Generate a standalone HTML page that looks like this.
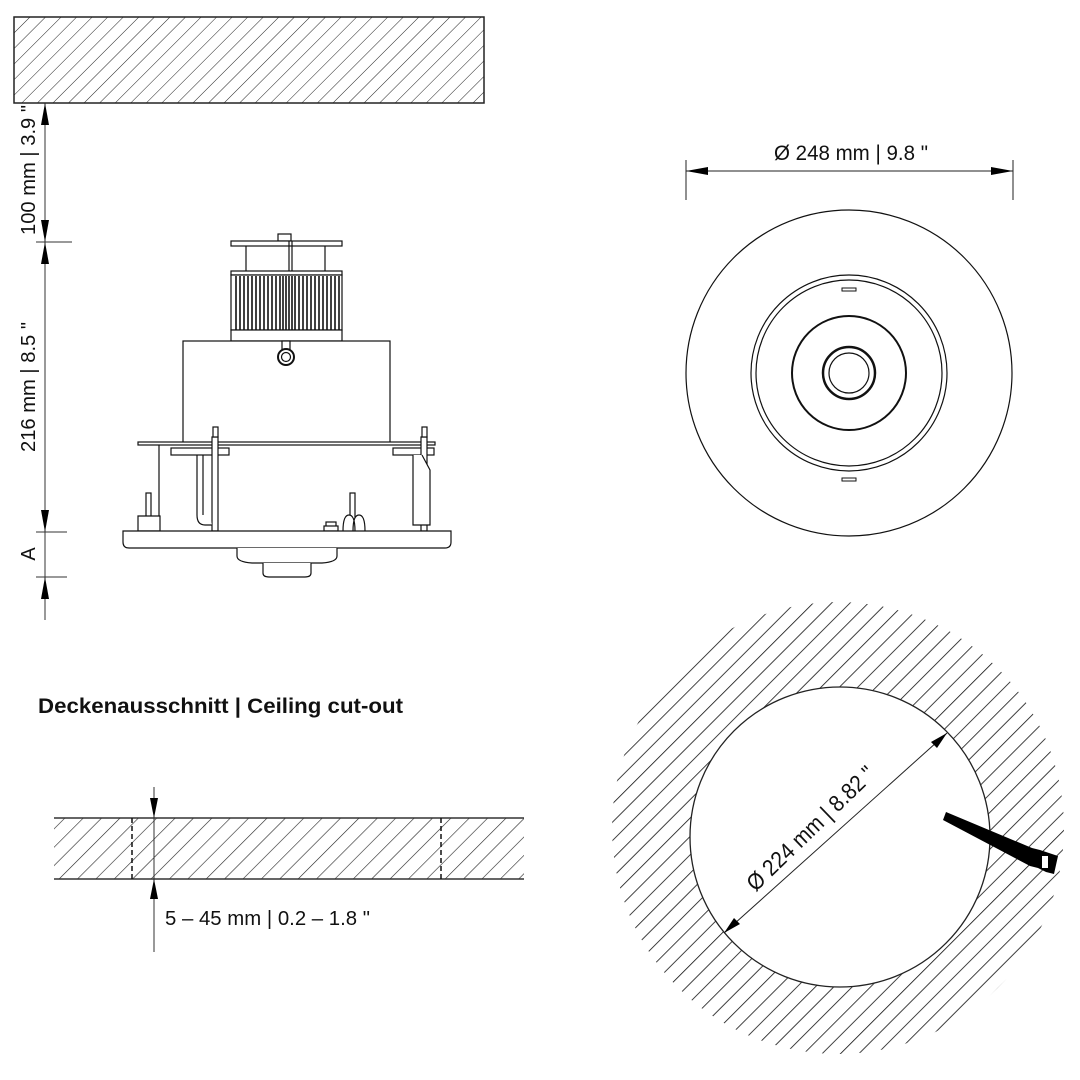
<!DOCTYPE html>
<html><head><meta charset="utf-8"><style>
html,body{margin:0;padding:0;background:#fff;}
svg{display:block;}
text{font-family:"Liberation Sans Narrow","Liberation Sans",sans-serif;fill:#111;}
</style></head><body>
<svg width="1080" height="1080" viewBox="0 0 1080 1080" xmlns="http://www.w3.org/2000/svg">
<defs>
<pattern id="h1" patternUnits="userSpaceOnUse" width="11" height="11" patternTransform="rotate(45)"><line x1="0" y1="0" x2="0" y2="11" stroke="#222" stroke-width="1"/></pattern>
<pattern id="h2" patternUnits="userSpaceOnUse" width="13" height="13" patternTransform="rotate(45)"><line x1="0" y1="0" x2="0" y2="13" stroke="#222" stroke-width="1.2"/></pattern>
<pattern id="h3" patternUnits="userSpaceOnUse" width="13" height="13" patternTransform="rotate(45)"><line x1="0" y1="0" x2="0" y2="13" stroke="#111" stroke-width="1.6"/></pattern>
</defs>

<!-- top ceiling -->
<rect x="14" y="17" width="470" height="86" fill="url(#h1)" stroke="#222" stroke-width="1.5"/>

<!-- left dimension -->
<g stroke="#333" stroke-width="1">
<line x1="45" y1="103" x2="45" y2="620"/>
<line x1="36" y1="242" x2="72" y2="242"/>
<line x1="36" y1="532" x2="67" y2="532"/>
<line x1="36" y1="577" x2="67" y2="577"/>
</g>
<g fill="#000">
<path d="M45,103 l-4,22 h8z"/><path d="M45,242 l-4,-22 h8z"/>
<path d="M45,242 l-4,22 h8z"/><path d="M45,532 l-4,-22 h8z"/>
<path d="M45,577 l-4,22 h8z"/>
</g>
<text transform="translate(35,170) rotate(-90)" font-size="20" text-anchor="middle" textLength="130" lengthAdjust="spacingAndGlyphs">100 mm | 3.9 "</text>
<text transform="translate(35,387) rotate(-90)" font-size="20" text-anchor="middle" textLength="130" lengthAdjust="spacingAndGlyphs">216 mm | 8.5 "</text>
<text transform="translate(35,554) rotate(-90)" font-size="20" text-anchor="middle">A</text>

<!-- device side view -->
<g stroke="#111" stroke-width="1.2" fill="#fff">
<rect x="278" y="234" width="13" height="7"/>
<rect x="231" y="241" width="111" height="5"/>
<line x1="246" y1="246" x2="246" y2="271"/><line x1="325" y1="246" x2="325" y2="271"/>
<line x1="289" y1="241" x2="289" y2="271"/><line x1="292" y1="241" x2="292" y2="271"/>
<rect x="231" y="271" width="111" height="4"/>
<rect x="231" y="275" width="111" height="55" fill="#fff"/>
<rect x="231" y="330" width="111" height="11"/>
<rect x="183" y="341" width="207" height="102"/>
<rect x="138" y="442" width="297" height="3"/>
<rect x="171" y="448" width="58" height="7"/>
<rect x="393" y="448" width="41" height="7"/>
<line x1="159" y1="445" x2="159" y2="531"/>
<rect x="212" y="437" width="6" height="94"/>
<rect x="213" y="427" width="5" height="10"/>
<rect x="421" y="437" width="6" height="94"/>
<rect x="422" y="427" width="5" height="10"/>
<path d="M197,455 v60 q0,10 8,10 h7"/><path d="M203,455 v60"/>
<path d="M413,455 v70 h17 v-55 l-8,-15"/>
<rect x="146" y="493" width="5" height="24"/>
<path d="M138,516 h22 v15 h-22z"/>
<rect x="350" y="493" width="5" height="30"/>
<rect x="326" y="522" width="10" height="5"/><rect x="324" y="526" width="14" height="5"/>
<path d="M343,531 q0,-16 6,-16 q6,0 6,16 M353,531 q0,-16 6,-16 q6,0 6,16"/>
<path d="M123,531 h328 v11 q0,6 -6,6 h-316 q-6,0 -6,-6z"/>
<path d="M237,548 v8 q0,6 15,7 h70 q15,-1 15,-7 v-8"/>
<path d="M263,563 v10 q0,4 6,4 h36 q6,0 6,-4 v-10"/>
<rect x="282" y="341" width="8" height="9"/>
<circle cx="286" cy="357" r="8" stroke-width="2"/>
<circle cx="286" cy="357" r="4.5"/>
</g>
<g stroke="#111" stroke-width="1.6">
<line x1="236" y1="276" x2="236" y2="330"/><line x1="240" y1="276" x2="240" y2="330"/>
<line x1="244" y1="276" x2="244" y2="330"/><line x1="248" y1="276" x2="248" y2="330"/>
<line x1="252" y1="276" x2="252" y2="330"/><line x1="256" y1="276" x2="256" y2="330"/>
<line x1="260" y1="276" x2="260" y2="330"/><line x1="264" y1="276" x2="264" y2="330"/>
<line x1="268" y1="276" x2="268" y2="330"/><line x1="272" y1="276" x2="272" y2="330"/>
<line x1="276" y1="276" x2="276" y2="330"/><line x1="280" y1="276" x2="280" y2="330"/>
<line x1="283" y1="276" x2="283" y2="330"/><line x1="286" y1="276" x2="286" y2="330"/>
<line x1="289" y1="276" x2="289" y2="330"/><line x1="292" y1="276" x2="292" y2="330"/>
<line x1="295" y1="276" x2="295" y2="330"/><line x1="299" y1="276" x2="299" y2="330"/>
<line x1="303" y1="276" x2="303" y2="330"/><line x1="307" y1="276" x2="307" y2="330"/>
<line x1="311" y1="276" x2="311" y2="330"/><line x1="315" y1="276" x2="315" y2="330"/>
<line x1="319" y1="276" x2="319" y2="330"/><line x1="323" y1="276" x2="323" y2="330"/>
<line x1="327" y1="276" x2="327" y2="330"/><line x1="331" y1="276" x2="331" y2="330"/>
<line x1="335" y1="276" x2="335" y2="330"/><line x1="339" y1="276" x2="339" y2="330"/>
</g>

<!-- top-right view -->
<text x="851" y="160" font-size="21" text-anchor="middle" textLength="154" lengthAdjust="spacingAndGlyphs">Ø 248 mm | 9.8 "</text>
<g stroke="#222" stroke-width="1">
<line x1="686" y1="160" x2="686" y2="200"/><line x1="1013" y1="160" x2="1013" y2="200"/>
<line x1="686" y1="171" x2="1013" y2="171"/>
</g>
<path d="M686,171 l22,-4 v8z M1013,171 l-22,-4 v8z" fill="#000"/>
<g fill="none" stroke="#111">
<circle cx="849" cy="373" r="163" stroke-width="1.2"/>
<circle cx="849" cy="373" r="98" stroke-width="1.2"/>
<circle cx="849" cy="373" r="93" stroke-width="1.2"/>
<circle cx="849" cy="373" r="57" stroke-width="2"/>
<circle cx="849" cy="373" r="26" stroke-width="2.5"/>
<circle cx="849" cy="373" r="20" stroke-width="1.2"/>
<rect x="842" y="288" width="14" height="3" stroke-width="1"/>
<rect x="842" y="478" width="14" height="3" stroke-width="1"/>
</g>

<!-- ceiling cut-out title -->
<text x="38" y="713" font-size="21" font-weight="bold" textLength="365" lengthAdjust="spacingAndGlyphs">Deckenausschnitt | Ceiling cut-out</text>

<!-- slab -->
<rect x="54" y="818" width="470" height="61" fill="url(#h2)"/>
<line x1="54" y1="818" x2="524" y2="818" stroke="#333" stroke-width="1.5"/>
<line x1="54" y1="879" x2="524" y2="879" stroke="#333" stroke-width="1.5"/>
<line x1="132" y1="818" x2="132" y2="879" stroke="#111" stroke-width="1.5" stroke-dasharray="5,3"/>
<line x1="441" y1="818" x2="441" y2="879" stroke="#111" stroke-width="1.5" stroke-dasharray="5,3"/>
<line x1="154" y1="787" x2="154" y2="952" stroke="#333" stroke-width="1"/>
<path d="M154,818 l-4,-20 h8z M154,879 l-4,20 h8z" fill="#000"/>
<text x="165" y="925" font-size="20" textLength="205" lengthAdjust="spacingAndGlyphs">5 – 45 mm | 0.2 – 1.8 "</text>

<!-- cut-out circle -->
<circle cx="838" cy="828" r="226" fill="url(#h3)"/>
<circle cx="840" cy="837" r="150" fill="#fff" stroke="#222" stroke-width="1.3"/>
<line x1="724" y1="933" x2="947" y2="733" stroke="#222" stroke-width="1"/>
<path d="M724,933 l10,-15 l6,6z M947,733 l-10,15 l-6,-6z" fill="#000"/>
<text transform="translate(816,834) rotate(-44)" font-size="23" text-anchor="middle" textLength="168" lengthAdjust="spacingAndGlyphs">Ø 224 mm | 8.82 "</text>
<path d="M946,812 L1032,848 L1040,850 L1058,856 L1054,874 L1046,872 L1038,868 L1030,866 L943,820z" fill="#000"/>
<rect x="1042" y="856" width="6" height="12" fill="#fff"/>
</svg>
</body></html>
